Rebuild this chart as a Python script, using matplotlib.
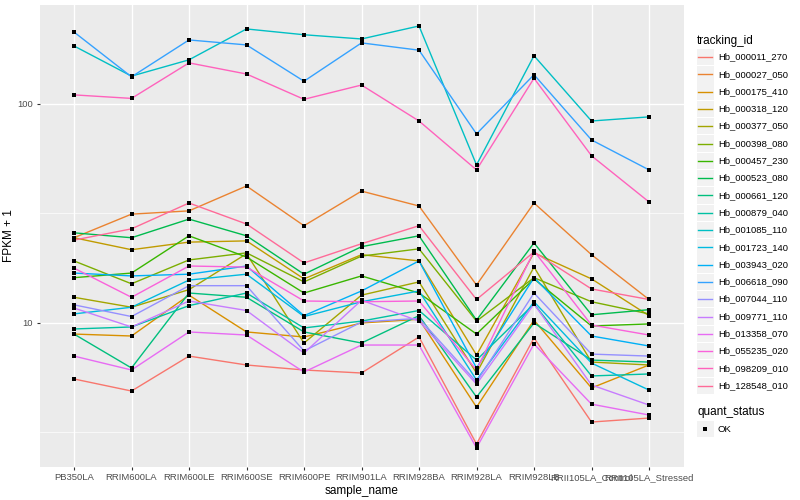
import matplotlib
matplotlib.use('Agg')
import matplotlib.pyplot as plt
from matplotlib.patches import Rectangle
from matplotlib.ticker import NullFormatter
import numpy as np

plt.rcParams['font.family'] = ['Liberation Sans', 'DejaVu Sans']

samples = ["PB350LA", "RRIM600LA", "RRIM600LE", "RRIM600SE", "RRIM600PE",
           "RRIM901LA", "RRIM928BA", "RRIM928LA", "RRIM928LB",
           "RRII105LA_Control", "RRII105LA_Stressed"]

tracking_ids = ["Hb_000011_270", "Hb_000027_050", "Hb_000175_410", "Hb_000318_120",
                "Hb_000377_050", "Hb_000398_080", "Hb_000457_230", "Hb_000523_080",
                "Hb_000661_120", "Hb_000879_040", "Hb_001085_110", "Hb_001723_140",
                "Hb_003943_020", "Hb_006618_090", "Hb_007044_110", "Hb_009771_110",
                "Hb_013358_070", "Hb_055235_020", "Hb_098209_010", "Hb_128548_010"]

# FPKM + 1, one list per tracking_id, in sample order
hb_000011_270 = [5.55, 4.89, 7.06, 6.43, 6.10, 5.91, 8.63, 2.80, 8.54, 3.53, 3.68]
hb_000027_050 = [24.5, 31.4, 32.5, 42.2, 27.8, 40.0, 34.2, 14.9, 35.3, 20.5, 12.8]
hb_000175_410 = [8.9, 8.72, 13.4, 9.1, 8.63, 10.0, 10.4, 4.13, 10.3, 5.05, 6.43]
hb_000318_120 = [24.5, 21.6, 23.4, 23.7, 15.9, 20.5, 19.2, 7.14, 20.9, 15.9, 10.8]
hb_000377_050 = [13.1, 11.8, 14.2, 20.7, 8.1, 13.4, 15.4, 5.91, 18.0, 6.63, 6.43]
hb_000398_080 = [19.2, 15.1, 19.4, 20.9, 15.4, 20.2, 21.8, 10.2, 16.1, 12.5, 11.0]
hb_000457_230 = [16.1, 16.9, 25.0, 20.0, 13.7, 16.4, 13.7, 8.9, 15.9, 9.69, 9.9]
hb_000523_080 = [25.8, 24.5, 29.8, 25.0, 16.7, 22.3, 25.0, 10.3, 23.2, 10.9, 11.5]
hb_000661_120 = [8.9, 6.23, 13.7, 13.1, 9.1, 8.1, 10.8, 4.59, 10.0, 6.77, 6.63]
hb_000879_040 = [9.39, 9.59, 12.0, 13.7, 9.49, 10.2, 11.4, 6.77, 12.2, 5.73, 5.85]
hb_001085_110 = [184, 134, 159, 220, 207, 198, 227, 52.7, 166, 83.6, 87.3]
hb_001723_140 = [11.0, 11.8, 15.7, 16.7, 10.7, 12.5, 14.0, 5.49, 12.5, 6.56, 4.94]
hb_003943_020 = [16.9, 16.4, 16.7, 18.2, 10.8, 14.0, 19.2, 6.23, 16.1, 8.72, 7.85]
hb_006618_090 = [213, 133, 196, 186, 127, 190, 176, 73.0, 136, 68.5, 50.0]
hb_007044_110 = [12.1, 10.7, 14.8, 14.8, 7.45, 10.1, 10.5, 5.38, 13.7, 7.21, 7.06]
hb_009771_110 = [11.7, 9.59, 12.6, 11.4, 7.29, 12.7, 10.2, 5.26, 12.2, 5.21, 4.22]
hb_013358_070 = [7.06, 6.10, 9.1, 8.81, 5.97, 7.93, 7.93, 2.69, 8.02, 4.26, 3.80]
hb_055235_020 = [17.8, 13.1, 18.2, 18.0, 12.6, 12.5, 12.6, 6.10, 21.3, 9.79, 8.81]
hb_098209_010 = [110, 106, 154, 137, 105, 122, 83.6, 50.0, 131, 58.0, 35.7]
hb_128548_010 = [23.9, 26.9, 35.3, 28.3, 18.8, 23.0, 27.8, 12.8, 21.1, 14.3, 12.8]

series = [hb_000011_270, hb_000027_050, hb_000175_410, hb_000318_120, hb_000377_050,
          hb_000398_080, hb_000457_230, hb_000523_080, hb_000661_120, hb_000879_040,
          hb_001085_110, hb_001723_140, hb_003943_020, hb_006618_090, hb_007044_110,
          hb_009771_110, hb_013358_070, hb_055235_020, hb_098209_010, hb_128548_010]


def hcl_hex(h, c=100.0, l=65.0):
    # polar Luv -> sRGB, like R's hcl()
    xn, yn, zn = 95.047, 100.0, 108.883
    un = 4 * xn / (xn + 15 * yn + 3 * zn)
    vn = 9 * yn / (xn + 15 * yn + 3 * zn)
    u = c * np.cos(np.radians(h))
    v = c * np.sin(np.radians(h))
    y = yn * ((l + 16) / 116) ** 3
    up = u / (13 * l) + un
    vp = v / (13 * l) + vn
    x = y * 9 * up / (4 * vp)
    z = y * (12 - 3 * up - 20 * vp) / (4 * vp)
    x, y, z = x / 100, y / 100, z / 100
    r = 3.2404542 * x - 1.5371385 * y - 0.4985314 * z
    g = -0.9692660 * x + 1.8760108 * y + 0.0415560 * z
    b = 0.0556434 * x - 0.2040259 * y + 1.0572252 * z
    out = []
    for ch in (r, g, b):
        ch = 12.92 * ch if ch <= 0.0031308 else 1.055 * ch ** (1 / 2.4) - 0.055
        out.append(min(max(ch, 0), 1))
    return tuple(out)


n = len(tracking_ids)
colors = [hcl_hex(h) for h in np.linspace(15, 375 - 360 / n, n)]

fig = plt.figure(figsize=(8, 5), dpi=100)
ax = fig.add_axes([39.5 / 800, 1 - 467 / 500, 644 / 800, 462 / 500])
ax.set_facecolor('#EBEBEB')
x = np.arange(len(samples))
for vals, col in zip(series, colors):
    ax.plot(x, vals, color=col, lw=1.0, zorder=3, solid_capstyle='butt')
for vals in series:
    ax.plot(x, vals, 's', color='black', ms=2.8, zorder=4, mew=0)

ax.set_yscale('log')
ax.set_ylim(2.2, 283)
ax.set_xlim(-0.6, len(samples) - 0.4)
ax.set_yticks([10, 100])
ax.set_yticklabels(['10', '100'])
ax.set_yticks([10 ** 0.5, 10 ** 1.5], minor=True)
ax.yaxis.set_minor_formatter(NullFormatter())
ax.set_xticks(x)
ax.set_xticklabels(samples)
ax.grid(which='major', color='white', lw=1.0)
ax.grid(which='minor', axis='y', color='white', lw=0.5)
ax.set_axisbelow(True)
for s in ax.spines.values():
    s.set_visible(False)
ax.tick_params(which='major', length=2.5, width=0.8, color='#333333',
               labelcolor='#4D4D4D', labelsize=6.8, pad=2)
ax.tick_params(which='minor', length=0)
ax.set_xlabel('sample_name', fontsize=8.5, labelpad=2)
ax.set_ylabel('FPKM + 1', fontsize=8.5, labelpad=2)

# legend drawn in pixel space
lax = fig.add_axes([0, 0, 1, 1])
lax.set_xlim(0, 800)
lax.set_ylim(500, 0)
lax.axis('off')
lax.text(697, 41, 'tracking_id', fontsize=8.5, va='center', ha='left')
for i, (tid, col) in enumerate(zip(tracking_ids, colors)):
    yc = 57 + 17.3 * i
    lax.add_patch(Rectangle((697, yc - 8.2), 16.5, 16.4, color='#F2F2F2', lw=0))
    lax.plot([698, 712], [yc, yc], color=col, lw=1.0)
    lax.text(718, yc, tid, fontsize=6.8, va='center', ha='left')
lax.text(697, 412, 'quant_status', fontsize=8.5, va='center', ha='left')
lax.add_patch(Rectangle((697, 421), 16.5, 16.4, color='#F2F2F2', lw=0))
lax.plot([705], [429], 's', color='black', ms=2.8, mew=0)
lax.text(718, 429, 'OK', fontsize=6.8, va='center', ha='left')

fig.savefig('out.png', dpi=100)
